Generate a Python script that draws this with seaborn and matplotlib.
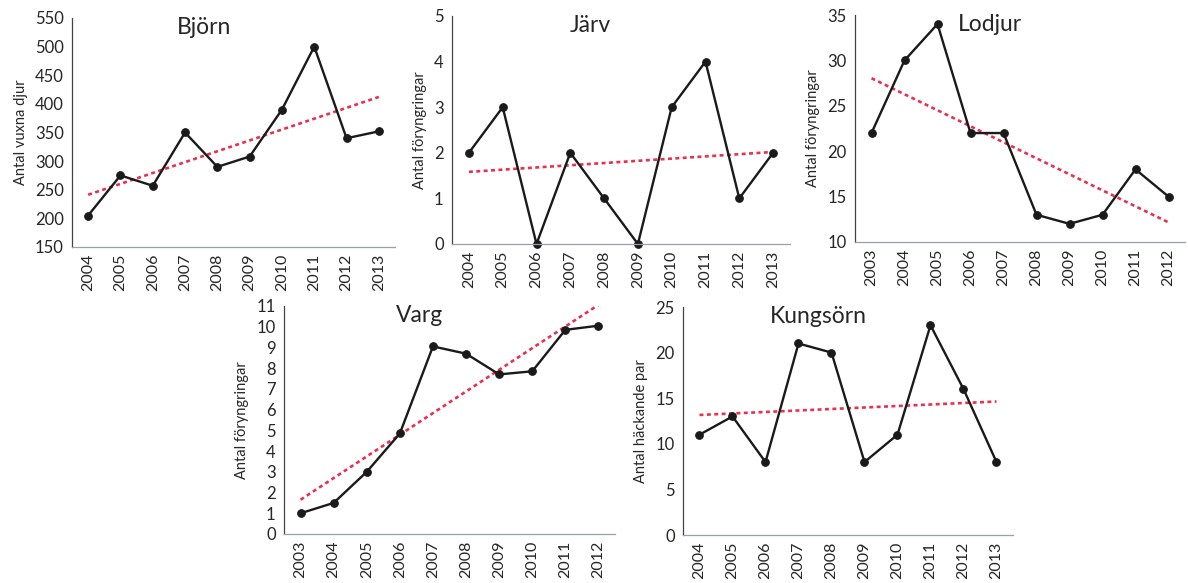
import numpy as np
import pandas as pd
import matplotlib
matplotlib.use("Agg")
import matplotlib.pyplot as plt
import seaborn as sns

# Data
bjorn_years = [2004, 2005, 2006, 2007, 2008, 2009, 2010, 2011, 2012, 2013]
bjorn_values = [205, 275, 257, 350, 290, 308, 390, 500, 340, 352]

jarv_years = [2004, 2005, 2006, 2007, 2008, 2009, 2010, 2011, 2012, 2013]
jarv_values = [2, 3, 0, 2, 1, 0, 3, 4, 1, 2]

lodjur_years = [2003, 2004, 2005, 2006, 2007, 2008, 2009, 2010, 2011, 2012]
lodjur_values = [22, 30, 34, 22, 22, 13, 12, 13, 18, 15]

varg_years = [2003, 2004, 2005, 2006, 2007, 2008, 2009, 2010, 2011, 2012]
varg_values = [1, 1.5, 3, 4.85, 9.05, 8.7, 7.7, 7.85, 9.85, 10.05]

kungsorn_years = [2004, 2005, 2006, 2007, 2008, 2009, 2010, 2011, 2012, 2013]
kungsorn_values = [11, 13, 8, 21, 20, 8, 11, 23, 16, 8]

sns.set_style("white")
plt.rcParams["font.family"] = ["Lato", "DejaVu Sans"]

SVART = "#1a1a1a"
ROD = "#e8304f"

fig = plt.figure(figsize=(11.88, 5.83), dpi=100)
W, H = 1188, 583


def ax_px(x0, y0, x1, y1):
    # axes from pixel box (left, top, right, bottom)
    return fig.add_axes([x0 / W, 1 - y1 / H, (x1 - x0) / W, (y1 - y0) / H])


def panel(ax, years, values, title, ylabel, ymin, ymax, ystep):
    df = pd.DataFrame({"ar": years, "varde": values})
    sns.regplot(data=df, x="ar", y="varde", ax=ax, scatter=False, ci=None,
                line_kws=dict(color=ROD, lw=1.9, ls=(0, (1.5, 1.3))))
    sns.lineplot(data=df, x="ar", y="varde", ax=ax, color=SVART, lw=1.7,
                 marker="o", markersize=5.5, markeredgecolor=SVART, clip_on=False)
    ax.set_xlim(years[0] - 0.5, years[-1] + 0.5)
    ax.set_ylim(ymin, ymax)
    ax.set_yticks(np.arange(ymin, ymax + ystep / 2, ystep))
    ax.set_xticks(years)
    ax.set_xticklabels([str(y) for y in years], rotation=90, fontsize=11.5)
    ax.set_xticks(np.arange(years[0] - 0.5, years[-1] + 1, 1), minor=True)
    ax.tick_params(axis="x", which="major", length=0, pad=5)
    ax.tick_params(axis="x", which="minor", length=4, width=0.8, color="#555555", direction="inout")
    ax.tick_params(axis="y", length=3, width=0.8, color="#555555", labelsize=12, pad=3)
    ax.set_xlabel("")
    ax.set_ylabel(ylabel, fontsize=10.5, labelpad=5)
    for s in ["top", "right"]:
        ax.spines[s].set_visible(False)
    ax.spines["left"].set_color("#444444")
    ax.spines["left"].set_linewidth(0.9)
    ax.spines["bottom"].set_color("#9a9fb0")
    ax.spines["bottom"].set_linewidth(0.9)
    ax.text(0.41, 0.96, title, transform=ax.transAxes, ha="center", va="center", fontsize=16.5)
    ax.grid(False)


ax1 = ax_px(72, 18, 395, 247)
panel(ax1, bjorn_years, bjorn_values, "Björn", "Antal vuxna djur", 150, 550, 50)

ax2 = ax_px(452, 16, 790, 244)
panel(ax2, jarv_years, jarv_values, "Järv", "Antal föryngringar", 0, 5, 1)

ax3 = ax_px(855, 15, 1185, 242)
panel(ax3, lodjur_years, lodjur_values, "Lodjur", "Antal föryngringar", 10, 35, 5)

ax4 = ax_px(284, 306, 615, 534)
panel(ax4, varg_years, varg_values, "Varg", "Antal föryngringar", 0, 11, 1)

ax5 = ax_px(683, 307, 1013, 535)
panel(ax5, kungsorn_years, kungsorn_values, "Kungsörn", "Antal häckande par", 0, 25, 5)

fig.savefig("out.png", dpi=100)
